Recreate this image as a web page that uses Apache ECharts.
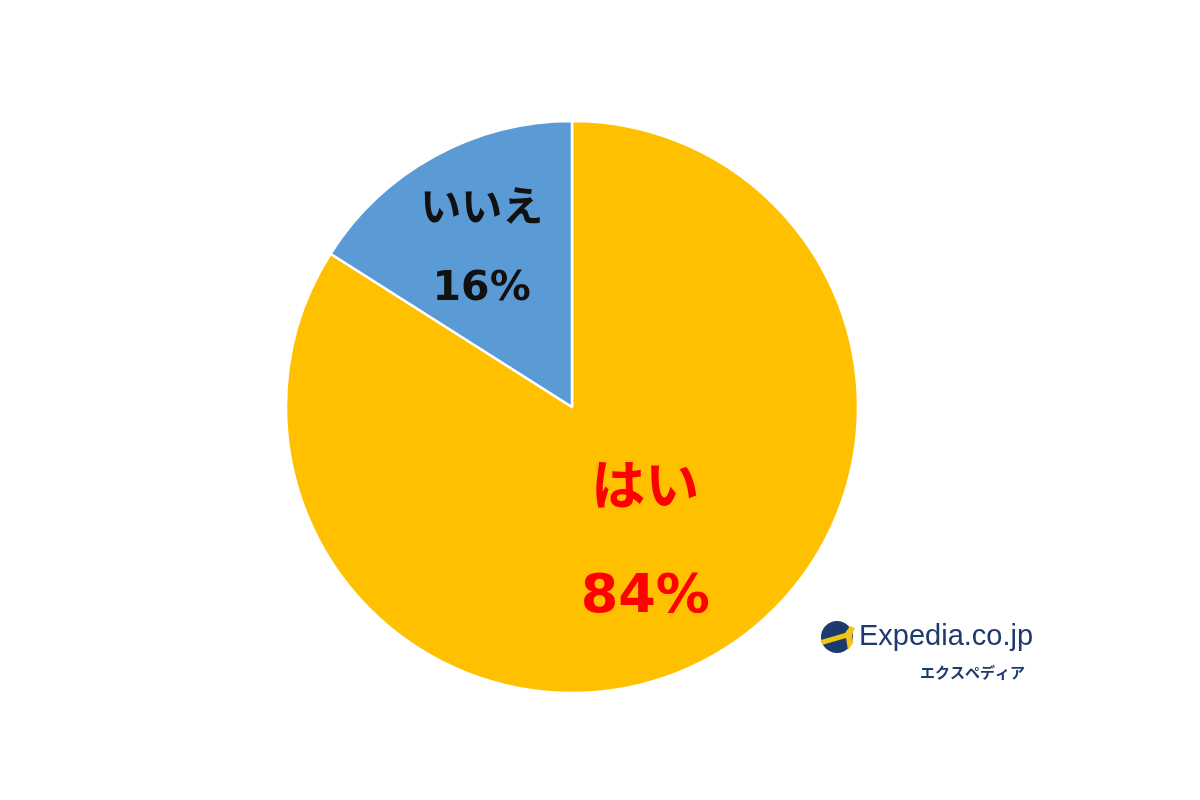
<!DOCTYPE html>
<html>
<head>
<meta charset="utf-8">
<script src="https://cdn.jsdelivr.net/npm/echarts@6/dist/echarts.min.js"></script>
<style>html,body{margin:0;padding:0;background:#fff}#c{width:1200px;height:800px}</style>
</head>
<body>
<div id="c"></div>
<script>
const categories = ['はい', 'いいえ'];
const values = [84, 16];
const sliceColors = ['#FFC000', '#5B9BD5'];
const labelColors = ['#FF0000', '#111111'];
const labelFontSizes = [54, 41];
const labelLineHeights = [107, 79];
const labelShift = [[3, 10], [-20, -29]];

const chart = echarts.init(document.getElementById('c'));
const data = categories.map((name, i) => ({
  name: name,
  value: values[i],
  itemStyle: { color: sliceColors[i] },
  label: {
    color: labelColors[i],
    fontSize: labelFontSizes[i],
    lineHeight: labelLineHeights[i]
  }
}));

chart.setOption({
  backgroundColor: '#ffffff',
  animation: false,
  series: [{
    type: 'pie',
    center: [572, 407],
    radius: 286,
    startAngle: 90,
    clockwise: true,
    data: data,
    itemStyle: { borderColor: '#ffffff', borderWidth: 2.5 },
    label: {
      show: true,
      position: 'inside',
      formatter: p => p.name + '\n' + p.value + '%',
      fontFamily: '"DejaVu Sans", "Noto Sans CJK JP", sans-serif',
      fontWeight: 'bold',
      align: 'center'
    },
    labelLine: { show: false },
    labelLayout: p => ({ dx: labelShift[p.dataIndex][0], dy: labelShift[p.dataIndex][1] })
  }],
  graphic: [
    { type: 'circle', shape: { cx: 837, cy: 637, r: 16 }, style: { fill: '#1C3A6B' } },
    { type: 'polygon', shape: { points: [[821, 640], [845, 633], [850, 626], [855, 628], [852, 634], [853, 643], [848, 650], [846, 638], [822, 645]] }, style: { fill: '#F2C31B' } },
    { type: 'text', left: 859, top: 622, style: { text: 'Expedia.co.jp', fontFamily: 'Liberation Sans, Arial, sans-serif', fontSize: 29, fill: '#1C3A6B' } },
    { type: 'text', left: 920, top: 665, style: { text: 'エクスペディア', fontFamily: '"Noto Sans CJK JP", sans-serif', fontWeight: 'bold', fontSize: 15, fill: '#1C3A6B' } }
  ]
});
</script>
</body>
</html>
